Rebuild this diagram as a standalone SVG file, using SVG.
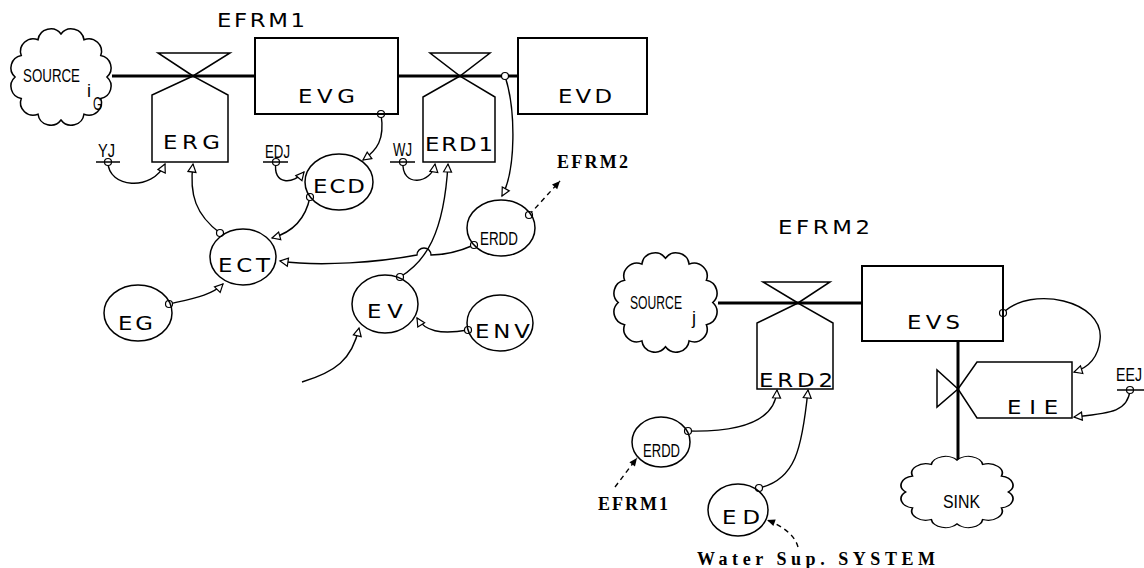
<svg xmlns="http://www.w3.org/2000/svg" width="1144" height="568" viewBox="0 0 1144 568">
<style>
.pipe{stroke:#000;stroke-width:3;fill:none}
.box{fill:none;stroke:#000;stroke-width:2}
.valve{fill:none;stroke:#000;stroke-width:1.5}
.aux{fill:none;stroke:#000;stroke-width:1.5}
.link{fill:none;stroke:#000;stroke-width:1.4;marker-start:url(#dot);marker-end:url(#tri)}
.plain{fill:none;stroke:#000;stroke-width:1.4;marker-end:url(#tri)}
.dash{fill:none;stroke:#000;stroke-width:1.4;stroke-dasharray:5 4;marker-end:url(#solid)}
.dashdot{fill:none;stroke:#000;stroke-width:1.4;stroke-dasharray:5 4;marker-start:url(#dot);marker-end:url(#solid)}
.cloud{fill:#fff;stroke:#000;stroke-width:1.5}
.big{font-family:"DejaVu Sans",sans-serif;font-size:19px;fill:#000}
.sm{font-family:"Liberation Sans",sans-serif;font-size:18px;fill:#000}
.sf{font-family:"Liberation Serif",serif;font-weight:bold;font-size:18px;fill:#000}
</style>
<defs>
<marker id="tri" markerUnits="userSpaceOnUse" markerWidth="12" markerHeight="12" refX="8" refY="4" orient="auto" overflow="visible"><path d="M0,0 L8,4 L0,8 Z" fill="#fff" stroke="#000" stroke-width="1.2"/></marker>
<marker id="dot" markerUnits="userSpaceOnUse" markerWidth="12" markerHeight="12" refX="5" refY="5" overflow="visible"><circle cx="5" cy="5" r="3.5" fill="#fff" stroke="#000" stroke-width="1.2"/></marker>
<marker id="solid" markerUnits="userSpaceOnUse" markerWidth="12" markerHeight="12" refX="8" refY="3.5" orient="auto" overflow="visible"><path d="M0,0 L8,3.5 L0,7 Z" fill="#000"/></marker>
<path id="cloudShape" d="M45,0 A12.5,12.5 0 0 1 38.97,21.5 A12.5,12.5 0 0 1 22.5,37.24 A12.5,12.5 0 0 1 0,43 A12.5,12.5 0 0 1 -22.5,37.24 A12.5,12.5 0 0 1 -38.97,21.5 A12.5,12.5 0 0 1 -45,0 A12.5,12.5 0 0 1 -38.97,-21.5 A12.5,12.5 0 0 1 -22.5,-37.24 A12.5,12.5 0 0 1 0,-43 A12.5,12.5 0 0 1 22.5,-37.24 A12.5,12.5 0 0 1 38.97,-21.5 A12.5,12.5 0 0 1 45,0 Z"/>
</defs>
<rect width="1144" height="568" fill="#fff"/>

<g id="connectors">
<line class="pipe" x1="112" y1="76" x2="255" y2="76"/>
<line class="pipe" x1="398" y1="76" x2="518" y2="76"/>
<line class="pipe" x1="718" y1="303" x2="862" y2="303"/>
<line class="pipe" x1="958" y1="341" x2="958" y2="466"/>
<path class="link" d="M108,162 C108,188 152,192 165,164"/>
<path class="link" d="M220,233 C196,215 189,195 193,164"/>
<path class="link" d="M276,162 C272,186 294,184 304,172"/>
<path class="link" d="M381,114 C385,140 377,150 363,160"/>
<path class="link" d="M310,197 C305,222 290,233 272,238"/>
<path class="link" d="M403,162 C401,188 432,184 435,164"/>
<path class="link" d="M400,277 C425,262 444,235 448,164"/>
<path class="link" d="M505,76 C516,110 516,170 502,196"/>
<path class="link" d="M474,245 C458,252 442,255 431,255 A7,7 0 0 0 417,255 C380,262 320,267 280,261"/>
<path class="link" d="M169,304 C195,298 212,295 223,284"/>
<path class="link" d="M468,330 C440,335 425,331 417,318"/>
<path class="plain" d="M302,382 C335,372 352,360 359,328"/>
<path class="dashdot" d="M529,215 L560,181"/>
<path class="link" d="M1003,313 C1030,285 1105,300 1100,340 C1098,360 1087,368 1074,372"/>
<path class="link" d="M1130,390 C1128,412 1110,413 1074,417"/>
<path class="link" d="M688,431 C730,432 775,425 777,390"/>
<path class="link" d="M759,488 C795,480 802,450 808,390"/>
<path class="dash" d="M615,487 L637,458"/>
<path class="dash" d="M798,547 C795,535 781,525 767,520"/>
</g>

<g id="title1"><text class="big" transform="scale(1.2,1)" x="180.8" y="27" textLength="73.3" lengthAdjust="spacing">EFRM1</text></g>

<g id="sourceIG">
<use href="#cloudShape" class="cloud" transform="translate(61,77) scale(1.02,1.0)" vector-effect="non-scaling-stroke"/>
<text class="sm" transform="scale(0.7,1)" x="32.9" y="82" font-size="20" textLength="81.4" lengthAdjust="spacingAndGlyphs">SOURCE</text>
<text class="sm" x="87" y="97" font-size="13">i</text>
<text class="sm" transform="scale(0.7,1)" x="132.9" y="110" font-size="17" textLength="12.9" lengthAdjust="spacingAndGlyphs">G</text>
</g>

<g id="ERG">
<path class="valve" d="M158,53 L230,53 L193,76 Z M193,76 L152,95 L152,162 L228,162 L228,95 Z"/>
<text class="big" transform="scale(1.2,1)" x="135.8" y="149" textLength="47.5" lengthAdjust="spacing">ERG</text>
</g>

<g id="EVG">
<rect class="box" x="255" y="38" width="143" height="76"/>
<text class="big" transform="scale(1.2,1)" x="248.3" y="103" textLength="47.5" lengthAdjust="spacing">EVG</text>
</g>

<g id="ERD1">
<path class="valve" d="M430,53 L490,53 L460,76 Z M460,76 L423,97 L423,162 L495,162 L495,97 Z"/>
<text class="big" transform="scale(1.2,1)" x="354.2" y="151" textLength="56.7" lengthAdjust="spacing">ERD1</text>
</g>

<g id="EVD">
<rect class="box" x="518" y="38" width="129" height="76"/>
<text class="big" transform="scale(1.2,1)" x="465" y="103" textLength="45" lengthAdjust="spacing">EVD</text>
</g>

<g id="YJ">
<line class="aux" x1="96" y1="162" x2="120" y2="162"/>
<text class="sm" transform="scale(0.7,1)" x="140" y="157" font-size="15" textLength="24.3" lengthAdjust="spacingAndGlyphs">YJ</text>
</g>

<g id="EDJ">
<line class="aux" x1="263" y1="162" x2="288" y2="162"/>
<text class="sm" transform="scale(0.7,1)" x="378.6" y="158" font-size="15" textLength="35.7" lengthAdjust="spacingAndGlyphs">EDJ</text>
</g>

<g id="WJ">
<line class="aux" x1="390" y1="162" x2="415" y2="162"/>
<text class="sm" transform="scale(0.7,1)" x="561.4" y="156" font-size="15" textLength="27.1" lengthAdjust="spacingAndGlyphs">WJ</text>
</g>

<g id="ECD">
<ellipse class="aux" cx="339" cy="182" rx="34" ry="28"/>
<text class="big" transform="scale(1.2,1)" x="260.8" y="193" textLength="43.3" lengthAdjust="spacing">ECD</text>
</g>

<g id="ECT">
<ellipse class="aux" cx="243" cy="257" rx="33" ry="28"/>
<text class="big" transform="scale(1.2,1)" x="181.7" y="272" textLength="43.3" lengthAdjust="spacing">ECT</text>
</g>

<g id="EG">
<ellipse class="aux" cx="138" cy="313" rx="34" ry="28"/>
<text class="big" transform="scale(1.2,1)" x="98.3" y="330" textLength="29.2" lengthAdjust="spacing">EG</text>
</g>

<g id="ERDD1">
<ellipse class="aux" cx="501" cy="228" rx="34" ry="28"/>
<text class="sm" transform="scale(0.7,1)" x="685.7" y="245" textLength="54.3" lengthAdjust="spacingAndGlyphs">ERDD</text>
</g>

<g id="EFRM2ref"><text class="sf" x="557" y="168" textLength="71" lengthAdjust="spacing">EFRM2</text></g>

<g id="EV">
<ellipse class="aux" cx="385" cy="304" rx="33" ry="29"/>
<text class="big" transform="scale(1.2,1)" x="305.8" y="318" textLength="30" lengthAdjust="spacing">EV</text>
</g>

<g id="ENV">
<ellipse class="aux" cx="500" cy="323" rx="33" ry="28"/>
<text class="big" transform="scale(1.2,1)" x="395.8" y="338" textLength="45.8" lengthAdjust="spacing">ENV</text>
</g>

<g id="title2"><text class="big" transform="scale(1.2,1)" x="648.3" y="234" textLength="76.7" lengthAdjust="spacing">EFRM2</text></g>

<g id="sourceJ">
<use href="#cloudShape" class="cloud" transform="translate(665.5,302.5) scale(1.05,1.03)" vector-effect="non-scaling-stroke"/>
<text class="sm" transform="scale(0.7,1)" x="900" y="309" font-size="20" textLength="74.3" lengthAdjust="spacingAndGlyphs">SOURCE</text>
<text class="sm" x="692" y="324" font-size="14">j</text>
</g>

<g id="ERD2">
<path class="valve" d="M763,282 L830,282 L798,303 Z M798,303 L757,323 L757,389 L833,389 L833,323 Z"/>
<text class="big" transform="scale(1.2,1)" x="632.5" y="387" textLength="61.7" lengthAdjust="spacing">ERD2</text>
</g>

<g id="EVS">
<rect class="box" x="862" y="266" width="141" height="75"/>
<text class="big" transform="scale(1.2,1)" x="755.8" y="329" textLength="44.2" lengthAdjust="spacing">EVS</text>
</g>

<g id="EIE">
<path class="valve" d="M937,370 L937,407 L958,389 Z M958,389 L977,362 L1072,362 L1072,418 L977,418 Z"/>
<text class="big" transform="scale(1.2,1)" x="839.2" y="414" textLength="42.5" lengthAdjust="spacing">EIE</text>
</g>

<g id="EEJ">
<line class="aux" x1="1117" y1="390" x2="1144" y2="390"/>
<text class="sm" transform="scale(0.7,1)" x="1594.3" y="381" font-size="16" textLength="37.1" lengthAdjust="spacingAndGlyphs">EEJ</text>
</g>

<g id="SINK">
<use href="#cloudShape" class="cloud" transform="translate(957,492) scale(1.14,0.74)" vector-effect="non-scaling-stroke"/>
<text class="sm" transform="scale(0.7,1)" x="1347.1" y="508" textLength="52.9" lengthAdjust="spacingAndGlyphs">SINK</text>
</g>

<g id="ERDD2">
<ellipse class="aux" cx="661" cy="442" rx="29" ry="25"/>
<text class="sm" transform="scale(0.7,1)" x="918.6" y="457" textLength="52.9" lengthAdjust="spacingAndGlyphs">ERDD</text>
</g>

<g id="EFRM1ref"><text class="sf" x="598" y="510" textLength="70" lengthAdjust="spacing">EFRM1</text></g>

<g id="ED">
<ellipse class="aux" cx="738" cy="510" rx="30" ry="26"/>
<text class="big" transform="scale(1.2,1)" x="601.7" y="524" textLength="31.7" lengthAdjust="spacing">ED</text>
</g>

<g id="water"><text class="sf" x="697" y="565" textLength="238" lengthAdjust="spacing">Water Sup. SYSTEM</text></g>
</svg>
